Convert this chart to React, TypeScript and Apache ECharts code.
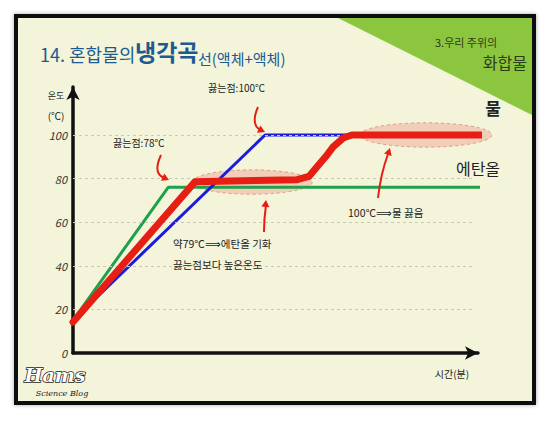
import React, { useEffect, useRef } from "react";
import * as echarts from "echarts";

// time (arbitrary units) and temperature (°C)
const waterTime = [0, 46, 100];
const waterTemp = [15, 100, 100];
const ethanolTime = [0, 22.8, 100];
const ethanolTemp = [15, 76, 76];
const mixTime = [0, 29.2, 53.7, 56.5, 58.4, 60.5, 62.3, 64.7, 66.8, 100];
const mixTemp = [14.2, 78.5, 79.5, 81, 85.3, 90, 94.5, 98.6, 100, 100];
const yTicks = [0, 20, 40, 60, 80, 100];
const gridValues = [20, 40, 60, 80, 100];
// highlight ellipses: [centerTime, centerTemp, halfWidth(time), halfHeight(temp)]
const highlights = [
  [42.9, 78.4, 14.4, 5.6],
  [84.5, 100, 15.8, 5.6],
];

const FONT = '"Noto Sans CJK KR", "Noto Sans", sans-serif';

function arrowHead(tx: number, ty: number, angleDeg: number, len = 7, half = 4) {
  const a = (angleDeg * Math.PI) / 180;
  const dx = Math.cos(a), dy = Math.sin(a);
  const bx = tx - dx * len, by = ty - dy * len;
  return [
    [tx, ty],
    [bx - dy * half, by + dx * half],
    [bx + dy * half, by - dx * half],
  ];
}

export default function App() {
  const ref = useRef<HTMLDivElement>(null);
  useEffect(() => {
    document.body.style.margin = "0";
    const chart = echarts.init(ref.current!, null, { renderer: "svg" });
    const pair = (t: number[], v: number[]) => t.map((x, i) => [x, v[i]]);
    const red = "#e61e14";
    const arrowStyle = { stroke: red, lineWidth: 2, fill: null };
    const txt = (x: number, y: number, text: string, size: number, extra: any = {}) => ({
      type: "text",
      x,
      y,
      z: 20,
      style: {
        text,
        font: `${extra.weight || "normal"} ${size}px ${FONT}`,
        fill: extra.fill || "#222",
        textAlign: extra.align || "left",
        textVerticalAlign: "middle",
        ...(extra.style || {}),
      },
    });
    chart.setOption({
      animation: false,
      backgroundColor: "#ffffff",
      grid: { left: 73, right: 72, top: 87, bottom: 70 },
      xAxis: {
        type: "value",
        min: 0,
        max: 97,
        axisLine: {
          show: true,
          lineStyle: { color: "#111", width: 3.5 },
          symbol: ["none", "arrow"],
          symbolSize: [10, 13],
        },
        axisTick: { show: false },
        axisLabel: { show: false },
        splitLine: { show: false },
      },
      yAxis: {
        type: "value",
        min: 0,
        max: 122,
        interval: 20,
        axisLine: {
          show: true,
          lineStyle: { color: "#111", width: 3.5 },
          symbol: ["none", "arrow"],
          symbolSize: [10, 13],
        },
        axisTick: { show: false },
        splitLine: { show: false },
        axisLabel: {
          margin: 6,
          color: "#333",
          fontSize: 11,
          fontStyle: "italic",
          fontFamily: FONT,
          formatter: (v: number) => (yTicks.includes(v) ? String(v) : ""),
        },
      },
      series: [
        {
          type: "custom",
          z: 1,
          clip: false,
          silent: true,
          data: highlights,
          renderItem: (params: any, api: any) => {
            const c = api.coord([api.value(0), api.value(1)]);
            const s = api.size([api.value(2), api.value(3)]);
            return {
              type: "ellipse",
              shape: { cx: c[0], cy: c[1], rx: s[0], ry: s[1] },
              style: {
                fill: "rgba(238,130,115,0.33)",
                stroke: "rgba(215,110,100,0.6)",
                lineWidth: 1,
                lineDash: [3, 3],
              },
            };
          },
        },
        {
          type: "line",
          name: "에탄올",
          data: pair(ethanolTime, ethanolTemp),
          showSymbol: false,
          clip: false,
          z: 3,
          lineStyle: { color: "#1fa04a", width: 3 },
          markLine: {
            silent: true,
            symbol: "none",
            label: { show: false },
            lineStyle: { color: "#c9c9b5", width: 1, type: [3, 3] },
            data: gridValues.map((v) => [{ coord: [0, v] }, { coord: [95.6, v] }]),
          },
        },
        {
          type: "line",
          name: "물",
          data: pair(waterTime, waterTemp),
          showSymbol: false,
          clip: false,
          z: 4,
          lineStyle: { color: "#1c1ce0", width: 3 },
        },
        {
          type: "line",
          name: "혼합물",
          data: pair(mixTime, mixTemp),
          showSymbol: false,
          clip: false,
          z: 5,
          lineStyle: { color: red, width: 7, join: "round", cap: "round" },
        },
      ],
      graphic: [
        {
          type: "rect",
          z: -10,
          shape: { x: 16, y: 16, width: 518, height: 387 },
          style: {
            fill: "#f3f4da",
            stroke: "#111",
            lineWidth: 4,
            shadowBlur: 4,
            shadowColor: "rgba(0,0,0,0.35)",
          },
        },
        {
          type: "polygon",
          z: -9,
          shape: { points: [[338, 18], [532, 18], [532, 115]] },
          style: { fill: "#8cc63e" },
        },
        txt(435, 42, "3.우리 주위의", 11, { fill: "#2c3d1a" }),
        txt(527, 62, "화합물", 16, { fill: "#2c3d1a", align: "right" }),
        // title
        txt(40, 54, "14. 혼합물의", 18, { fill: "#1d5a90" }),
        txt(135, 51, "냉각곡", 23, { fill: "#1d5a90", weight: "bold" }),
        txt(198, 58, "선(액체+액체)", 15, { fill: "#1d5a90" }),
        // axis names
        txt(56, 95, "온도", 9, { align: "center" }),
        txt(56, 115, "(℃)", 10, { align: "center" }),
        txt(452, 373, "시간(분)", 10, { align: "center" }),
        // annotations
        txt(113, 142, "끓는점:78℃", 10),
        txt(208, 87, "끓는점:100℃", 10),
        txt(173, 243, "약79℃⟹에탄올 기화", 10.5),
        txt(173, 264, "끓는점보다 높은온도", 10.5),
        txt(348, 212, "100℃⟹물 끓음", 10.5),
        txt(493, 107, "물", 17, { align: "center", weight: "bold" }),
        txt(478, 168, "에탄올", 16, { align: "center" }),
        // arrows
        {
          type: "bezierCurve",
          z: 20,
          shape: { x1: 161, y1: 155, cpx1: 154, cpy1: 170, cpx2: 158, cpy2: 176, x2: 165, y2: 178 },
          style: arrowStyle,
        },
        { type: "polygon", z: 20, shape: { points: arrowHead(169, 180, 25) }, style: { fill: red } },
        {
          type: "bezierCurve",
          z: 20,
          shape: { x1: 258, y1: 107, cpx1: 252, cpy1: 120, cpx2: 255, cpy2: 128, x2: 261, y2: 130 },
          style: arrowStyle,
        },
        { type: "polygon", z: 20, shape: { points: arrowHead(265, 132, 25) }, style: { fill: red } },
        {
          type: "bezierCurve",
          z: 20,
          shape: { x1: 264, y1: 232, cpx1: 264, cpy1: 222, cpx2: 265, cpy2: 212, x2: 266, y2: 205 },
          style: arrowStyle,
        },
        { type: "polygon", z: 20, shape: { points: arrowHead(266, 200, -85) }, style: { fill: red } },
        {
          type: "bezierCurve",
          z: 20,
          shape: { x1: 378, y1: 198, cpx1: 380, cpy1: 180, cpx2: 384, cpy2: 165, x2: 388, y2: 154 },
          style: arrowStyle,
        },
        { type: "polygon", z: 20, shape: { points: arrowHead(390, 148, -72) }, style: { fill: red } },
        // logo
        {
          type: "text",
          z: 20,
          x: 55,
          y: 375,
          style: {
            text: "Hams",
            font: 'italic bold 19px "DejaVu Serif", serif',
            fill: "#ffffff",
            stroke: "#222",
            lineWidth: 1.5,
            textAlign: "center",
            textVerticalAlign: "middle",
          },
        },
        {
          type: "text",
          z: 20,
          x: 62,
          y: 393,
          style: {
            text: "Science Blog",
            font: 'italic 8px "DejaVu Serif", serif',
            fill: "#222",
            textAlign: "center",
            textVerticalAlign: "middle",
          },
        },
      ],
    });
    return () => chart.dispose();
  }, []);
  return <div ref={ref} style={{ width: 550, height: 423 }} />;
}
